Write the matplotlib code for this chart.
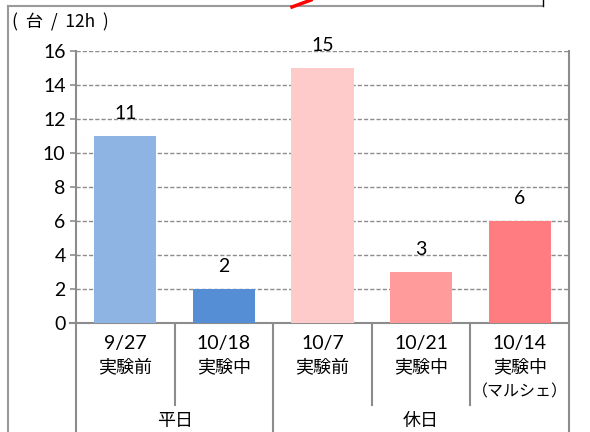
import matplotlib
matplotlib.use("Agg")
import matplotlib.pyplot as plt
from matplotlib.lines import Line2D

plt.rcParams['font.family'] = ['Noto Sans CJK JP', 'DejaVu Sans']

dates = ["9/27", "10/18", "10/7", "10/21", "10/14"]
phases = ["実験前", "実験中", "実験前", "実験中", "実験中"]
notes = ["", "", "", "", "（マルシェ）"]
groups = ["平日", "休日"]
group_sizes = [2, 3]
values = [11, 2, 15, 3, 6]
colors = ["#8EB4E3", "#558ED5", "#FFCACA", "#FF9B9B", "#FF7C80"]
yticks = [0, 2, 4, 6, 8, 10, 12, 14, 16]

NUMF = ['Lato', 'DejaVu Sans']
W, H = 590, 432
fig = plt.figure(figsize=(W / 100, H / 100), dpi=100)
fig.patch.set_facecolor("white")

L, R, T, B = 76, 569, 51, 323
ax = fig.add_axes([L / W, 1 - B / H, (R - L) / W, (B - T) / H])

x = list(range(len(values)))
ax.bar(x, values, width=0.63, color=colors, zorder=3)
ax.set_xlim(-0.5, len(values) - 0.5)
ax.set_ylim(0, 16)
ax.set_yticks(yticks)
ax.set_yticklabels([str(v) for v in yticks], fontsize=14, family=NUMF)
ax.set_xticks([])

grid_c = "#8c8c8c"
for v in yticks[1:]:
    ax.axhline(v, color=grid_c, lw=1.0, ls=(0, (3, 1.5)), zorder=1)

ax.spines["top"].set_visible(False)
for s in ["left", "right", "bottom"]:
    ax.spines[s].set_color(grid_c)
    ax.spines[s].set_linewidth(1.5)
ax.tick_params(axis="y", length=4.5, width=1.2, color=grid_c, pad=3)

for xi, v in zip(x, values):
    ax.annotate(str(v), (xi, v), xytext=(0, 16), textcoords="offset points",
                ha="center", va="center", fontsize=14, family=NUMF)

tr = ax.get_xaxis_transform()
def fy(py):
    return -(py - B) / (B - T)

for xi, d, p, n in zip(x, dates, phases, notes):
    ax.text(xi, fy(343), d, transform=tr, ha="center", va="center", fontsize=14, family=NUMF)
    ax.text(xi, fy(367), p, transform=tr, ha="center", va="center", fontsize=13)
    if n:
        ax.text(xi, fy(392), n, transform=tr, ha="center", va="center", fontsize=11.5)

start = 0
group_bounds = [-0.5]
for gs in group_sizes:
    start += gs
    group_bounds.append(start - 0.5)
for b in [i - 0.5 for i in range(len(values) + 1)]:
    bottom = fy(432) if b in group_bounds else fy(405)
    ax.plot([b, b], [0, bottom], transform=tr, color=grid_c, lw=1.5, clip_on=False)

start = 0
for g, gs in zip(groups, group_sizes):
    cx = start + (gs - 1) / 2
    ax.text(cx, fy(421), g, transform=tr, ha="center", va="center", fontsize=13)
    start += gs

ax.plot([-0.5 - 6 / ((R - L) / len(values)), -0.5], [0, 0], color=grid_c, lw=1.5, clip_on=False)

fig.text(12 / W, 1 - 22 / H, "(  台  /  12h  )", ha="left", va="center", fontsize=12.5)

fig.add_artist(Line2D([8 / W, 8 / W], [0, 1 - 5.5 / H], transform=fig.transFigure, color="#9a9a9a", lw=1.5))
fig.add_artist(Line2D([8 / W, 543 / W], [1 - 5.5 / H, 1 - 5.5 / H], transform=fig.transFigure, color="#9a9a9a", lw=1.5))
fig.add_artist(Line2D([543 / W, 543 / W], [1 - 5.5 / H, 1], transform=fig.transFigure, color="black", lw=1))
fig.add_artist(Line2D([292 / W, 311 / W], [1 - 7 / H, 1], transform=fig.transFigure, color="red", lw=2.5))

fig.savefig("out.png", dpi=100)
